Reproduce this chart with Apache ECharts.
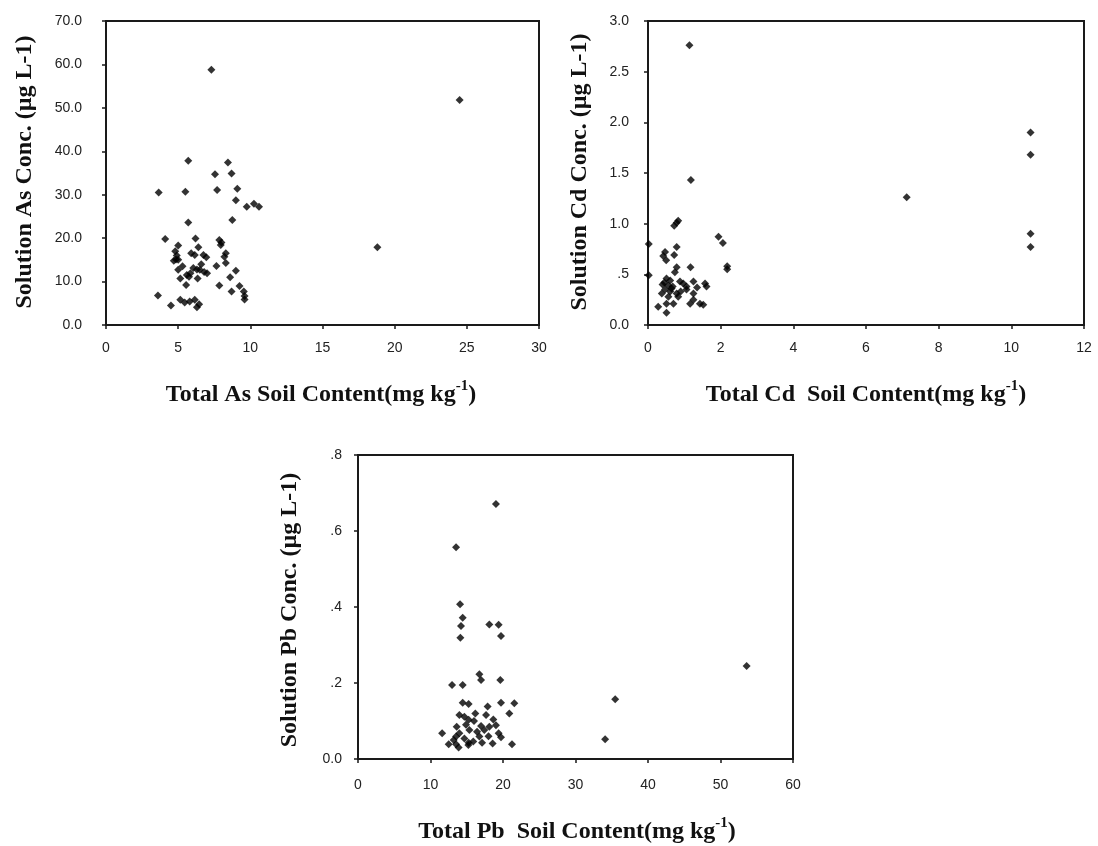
<!DOCTYPE html>
<html>
<head>
<meta charset="utf-8">
<script src="https://cdn.jsdelivr.net/npm/echarts@6/dist/echarts.min.js"></script>
<style>
html,body{margin:0;padding:0;background:#fff;}
#chart{width:1098px;height:846px;}
</style>
</head>
<body>
<div id="chart"></div>
<script>
// ---- Data ----
const asX = [7.3,5.7,8.45,8.7,7.55,7.7,9.1,3.65,5.5,9.0,9.75,10.25,10.6,8.75,5.7,4.1,5.0,6.2,6.4,4.8,5.9,6.15,6.75,6.95,4.85,5.0,4.7,7.85,8.0,7.95,8.3,8.2,8.3,7.65,5.0,6.05,6.3,6.5,6.8,7.0,5.85,5.6,9.0,5.15,6.35,5.75,8.6,5.55,7.85,9.25,3.6,8.7,9.55,9.6,9.6,5.15,5.45,5.8,6.15,6.45,6.3,4.5,24.5,18.8,6.6,5.3,4.9];
const asY = [58.8,37.8,37.4,34.9,34.7,31.1,31.4,30.5,30.7,28.7,27.2,27.9,27.2,24.2,23.6,19.8,18.3,19.9,17.9,17.0,16.5,16.1,16.1,15.6,15.1,15.0,14.8,19.6,19.0,18.4,16.5,15.7,14.3,13.6,12.7,13.1,12.8,12.7,12.2,11.9,11.9,11.5,12.5,10.7,10.7,11.1,11.0,9.2,9.1,9.0,6.8,7.7,7.7,6.7,5.9,5.8,5.2,5.4,5.8,4.8,4.1,4.5,51.8,17.9,14.0,13.5,16.0];

const cdX = [1.14,1.18,0.72,0.79,0.83,1.94,2.06,2.18,2.18,0.79,0.47,0.42,0.72,0.50,0.79,1.17,0.74,0.51,0.61,0.40,0.56,0.68,0.88,0.97,1.06,1.25,1.57,1.61,0.47,0.61,0.79,1.06,1.25,0.38,0.56,0.83,1.25,0.70,1.16,1.43,1.52,0.28,0.51,0.51,0.02,0.02,10.53,10.53,7.12,10.53,10.53,0.65,0.9,1.35,0.45];
const cdY = [2.76,1.43,0.98,1.01,1.03,0.87,0.81,0.58,0.55,0.77,0.72,0.68,0.69,0.64,0.57,0.57,0.52,0.46,0.44,0.40,0.39,0.38,0.43,0.41,0.38,0.43,0.41,0.38,0.35,0.33,0.31,0.35,0.31,0.31,0.28,0.28,0.25,0.21,0.21,0.21,0.20,0.18,0.21,0.12,0.80,0.49,1.90,1.68,1.26,0.90,0.77,0.36,0.33,0.37,0.42];

const pbX = [19.03,13.53,14.08,14.44,14.21,14.12,18.11,19.4,19.72,16.74,16.97,19.63,12.97,14.44,14.44,15.26,19.72,21.56,17.88,20.87,13.98,14.67,16.18,17.66,15.26,18.66,13.61,16.97,18.11,19.03,11.6,13.98,15.36,16.42,17.42,19.4,13.53,14.67,16.74,19.72,12.51,13.53,15.26,15.9,17.11,18.57,21.24,13.88,15.22,53.6,35.47,34.09,14.9,16.0,18.0,13.2];
const pbY = [0.671,0.557,0.407,0.372,0.350,0.319,0.354,0.353,0.324,0.223,0.208,0.208,0.195,0.195,0.148,0.145,0.148,0.147,0.138,0.120,0.116,0.111,0.120,0.116,0.103,0.104,0.085,0.087,0.085,0.089,0.068,0.068,0.076,0.072,0.076,0.068,0.059,0.054,0.059,0.057,0.039,0.039,0.043,0.046,0.043,0.041,0.039,0.030,0.037,0.245,0.157,0.052,0.09,0.10,0.06,0.05];

const xTitles = ['Total As Soil Content(mg kg', 'Total Cd  Soil Content(mg kg', 'Total Pb  Soil Content(mg kg'];
const yTitles = ['Solution As Conc. (\u00b5g L-1)', 'Solution Cd Conc. (\u00b5g L-1)', 'Solution Pb Conc. (\u00b5g L-1)'];

// ---- Helpers ----
const pairs = (xs, ys) => xs.map((x, i) => [x, ys[i]]);
const AX = '#1a1a1a';
const labelFont = {fontFamily: 'Liberation Sans', fontSize: 14, color: '#222'};
const titleFont = 'bold 24px "Liberation Serif"';

function xAxisDef(gi, max, interval, margin) {
  return {
    gridIndex: gi, type: 'value', min: 0, max: max, interval: interval,
    axisLine: {show: true, onZero: false, lineStyle: {color: AX, width: 2}},
    axisTick: {show: true, length: 4, lineStyle: {color: AX, width: 1.5}},
    axisLabel: Object.assign({margin: margin, formatter: v => String(v)}, labelFont),
    splitLine: {show: false}
  };
}
function yAxisDef(gi, max, interval, margin, fmt) {
  return {
    gridIndex: gi, type: 'value', min: 0, max: max, interval: interval,
    axisLine: {show: true, onZero: false, lineStyle: {color: AX, width: 2}},
    axisTick: {show: true, length: 4, lineStyle: {color: AX, width: 1.5}},
    axisLabel: Object.assign({margin: margin, formatter: fmt}, labelFont),
    splitLine: {show: false}
  };
}
const noLead = v => v === 0 ? '0.0' : (v < 1 ? v.toFixed(1).replace(/^0/, '') : v.toFixed(1));

const gridBox = {show: true, borderColor: AX, borderWidth: 2, backgroundColor: 'transparent'};

function xTitle(text, cx, cy) {
  return {
    type: 'text', x: cx, y: cy, z: 100,
    style: {
      text: '{m|' + text + '}{s|-1}{m|)}',
      align: 'center', verticalAlign: 'middle',
      rich: {
        m: {font: titleFont, fill: '#111', lineHeight: 28, verticalAlign: 'bottom'},
        s: {font: 'bold 15px "Liberation Serif"', fill: '#111', lineHeight: 28, verticalAlign: 'top'}
      }
    }
  };
}
function yTitle(text, cx, cy) {
  return {
    type: 'text', x: cx, y: cy, rotation: Math.PI / 2, z: 100,
    style: {text: text, font: titleFont, fill: '#111', align: 'center', verticalAlign: 'middle'}
  };
}

const sym = {symbol: 'diamond', symbolSize: 8, itemStyle: {color: '#000'}};

const chart = echarts.init(document.getElementById('chart'), null, {renderer: 'canvas'});
chart.setOption({
  backgroundColor: '#fff',
  animation: false,
  grid: [
    Object.assign({left: 106, top: 21, width: 433, height: 304}, gridBox),
    Object.assign({left: 648, top: 21, width: 436, height: 304}, gridBox),
    Object.assign({left: 358, top: 455, width: 435, height: 304}, gridBox)
  ],
  xAxis: [
    xAxisDef(0, 30, 5, 16),
    xAxisDef(1, 12, 2, 16),
    xAxisDef(2, 60, 10, 19)
  ],
  yAxis: [
    yAxisDef(0, 70, 10, 24, v => v.toFixed(1)),
    yAxisDef(1, 3, 0.5, 19, noLead),
    yAxisDef(2, 0.8, 0.2, 16, noLead)
  ],
  series: [
    Object.assign({type: 'scatter', xAxisIndex: 0, yAxisIndex: 0, data: pairs(asX, asY)}, sym),
    Object.assign({type: 'scatter', xAxisIndex: 1, yAxisIndex: 1, data: pairs(cdX, cdY)}, sym),
    Object.assign({type: 'scatter', xAxisIndex: 2, yAxisIndex: 2, data: pairs(pbX, pbY)}, sym)
  ],
  graphic: [
    xTitle(xTitles[0], 321, 393),
    xTitle(xTitles[1], 866, 393),
    xTitle(xTitles[2], 577, 830),
    yTitle(yTitles[0], 25, 172),
    yTitle(yTitles[1], 580, 172),
    yTitle(yTitles[2], 290, 610)
  ]
});
</script>
</body>
</html>
